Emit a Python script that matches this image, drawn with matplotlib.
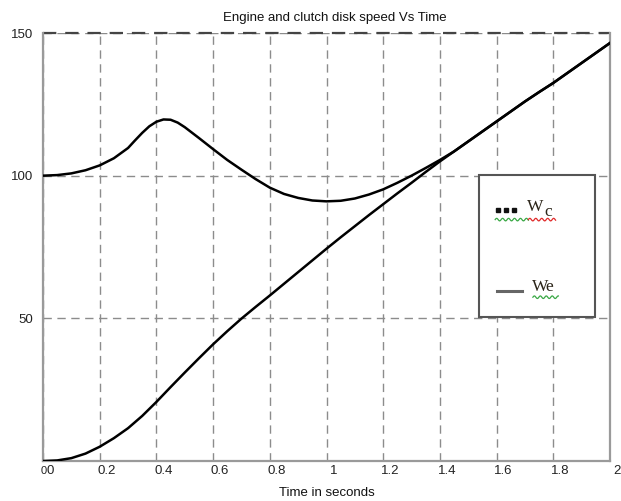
import matplotlib
matplotlib.use("Agg")
import matplotlib.pyplot as plt
import matplotlib.transforms as mtransforms
from matplotlib.patches import Rectangle
import numpy as np

# clutch disk speed vs time
t_wc = [0.00, 0.05, 0.10, 0.15, 0.20, 0.25, 0.30, 0.35, 0.40, 0.45,
        0.50, 0.55, 0.60, 0.65, 0.70, 0.75, 0.80, 0.85, 0.90, 0.95,
        1.00, 1.05, 1.10, 1.15, 1.20, 1.25, 1.30, 1.35, 1.40, 1.45,
        1.50, 1.55, 1.60, 1.65, 1.70, 1.75, 1.80, 1.85, 1.90, 1.95, 2.00]
wc = [0.0, 0.2, 1.0, 2.6, 5.0, 8.0, 11.5, 15.8, 20.7, 25.9,
      31.0, 36.0, 40.9, 45.5, 49.9, 54.0, 58.0, 62.1, 66.2, 70.3,
      74.4, 78.4, 82.3, 86.2, 90.0, 93.8, 97.5, 101.3, 105.0, 108.5,
      112.0, 115.5, 119.0, 122.5, 126.0, 129.3, 132.5, 136.0, 139.5, 143.0, 146.5]

# engine speed vs time (denser around the hump)
t_we = [0.00, 0.05, 0.10, 0.15, 0.20, 0.25, 0.30, 0.325, 0.35, 0.375,
        0.40, 0.425, 0.45, 0.475, 0.50, 0.55, 0.60, 0.65, 0.70, 0.75,
        0.80, 0.85, 0.90, 0.95, 1.00, 1.05, 1.10, 1.15, 1.20, 1.25,
        1.30, 1.35, 1.40, 1.45, 1.50, 1.55, 1.60, 1.65, 1.70, 1.75,
        1.80, 1.85, 1.90, 1.95, 2.00]
we = [100.0, 100.2, 100.8, 101.9, 103.6, 106.1, 109.7, 112.4, 115.0, 117.3,
      118.9, 119.7, 119.6, 118.6, 117.0, 113.2, 109.3, 105.5, 102.1, 98.8,
      95.8, 93.6, 92.2, 91.3, 91.0, 91.2, 92.0, 93.4, 95.2, 97.5,
      100.0, 102.7, 105.5, 108.5, 112.0, 115.5, 119.0, 122.5, 126.0, 129.3,
      132.5, 136.0, 139.5, 143.0, 146.5]

xticks = [0, 0.2, 0.4, 0.6, 0.8, 1, 1.2, 1.4, 1.6, 1.8, 2]
xticklabels = ["0", "0.2", "0.4", "0.6", "0.8", "1", "1.2", "1.4", "1.6", "1.8", "2"]
yticks = [50, 100, 150]

plt.rcParams['font.family'] = ['Liberation Sans', 'DejaVu Sans']

fig = plt.figure(figsize=(6.21, 5.01), dpi=100)
ax = fig.add_axes([43/621, 40/501, 567/621, 428/501])

ax.plot(t_we, we, color='black', lw=1.8, zorder=4)
ax.plot(t_wc, wc, color='black', lw=1.8, zorder=4)

ax.set_xlim(0, 2)
ax.set_ylim(0, 150)
ax.set_xticks(xticks)
ax.set_xticklabels(xticklabels)
ax.set_yticks(yticks)
ax.tick_params(length=0, labelsize=9.5, colors='#222222')
ax.tick_params(axis='x', pad=3)
ax.tick_params(axis='y', pad=7)

# the labels sit a little right of their grid lines in the original
shift = mtransforms.ScaledTranslation(7/100, 0, fig.dpi_scale_trans)
for lab in ax.get_xticklabels():
    lab.set_transform(lab.get_transform() + shift)
ax.text(0.0, 0.0, "0", transform=ax.transAxes + mtransforms.ScaledTranslation(1/100, -5/100, fig.dpi_scale_trans),
        ha='center', va='top', fontsize=8, color='#222222')

ax.grid(True, linestyle=(0, (6, 4)), color='#8c8c8c', lw=1.0)
ax.axhline(150, linestyle=(0, (6, 4)), color='#444444', lw=1.6, clip_on=False)
ax.spines['top'].set_visible(False)
for s in ['left', 'bottom', 'right']:
    ax.spines[s].set_color('#9a9a9a')
    ax.spines[s].set_linewidth(1.6)

ax.set_title("Engine and clutch disk speed Vs Time", fontsize=9.5, pad=9,
             x=0.515, color='#111111')
ax.set_xlabel("Time in seconds", fontsize=9.5, labelpad=7, color='#111111')

# hand drawn legend box (pasted-in look of the original)
box = Rectangle((1.538, 50.4), 0.409, 50.0, facecolor='white',
                edgecolor='#555555', lw=1.5, zorder=5)
ax.add_patch(box)
ax.plot([1.605, 1.633, 1.661], [87.8, 87.8, 87.8], 's', ms=2.2,
        color='#111111', zorder=6)
ax.text(1.708, 89.0, "W", fontsize=12.5, family='Liberation Serif', color='#2b2418',
        ha='left', va='center', zorder=6)
ax.text(1.770, 87.2, "c", fontsize=12.5, family='Liberation Serif', color='#2b2418',
        ha='left', va='center', zorder=6)
ax.plot([1.600, 1.688], [59.7, 59.7], color='#666666', lw=2.2, zorder=6)
ax.text(1.725, 61.0, "We", fontsize=12.5, family='Liberation Serif', color='#2b2418',
        ha='left', va='center', zorder=6)

# spell-check squiggles under the legend words
def squiggle(x0, x1, y, color):
    xs = np.linspace(x0, x1, 60)
    ys = y + 0.45 * np.sin((xs - x0) / 0.0105 * np.pi)
    ax.plot(xs, ys, color=color, lw=0.9, zorder=6)

squiggle(1.595, 1.712, 84.6, '#3aa845')
squiggle(1.712, 1.808, 84.6, '#e02a2a')
squiggle(1.728, 1.818, 57.4, '#3aa845')

fig.savefig("out.png", dpi=100)
